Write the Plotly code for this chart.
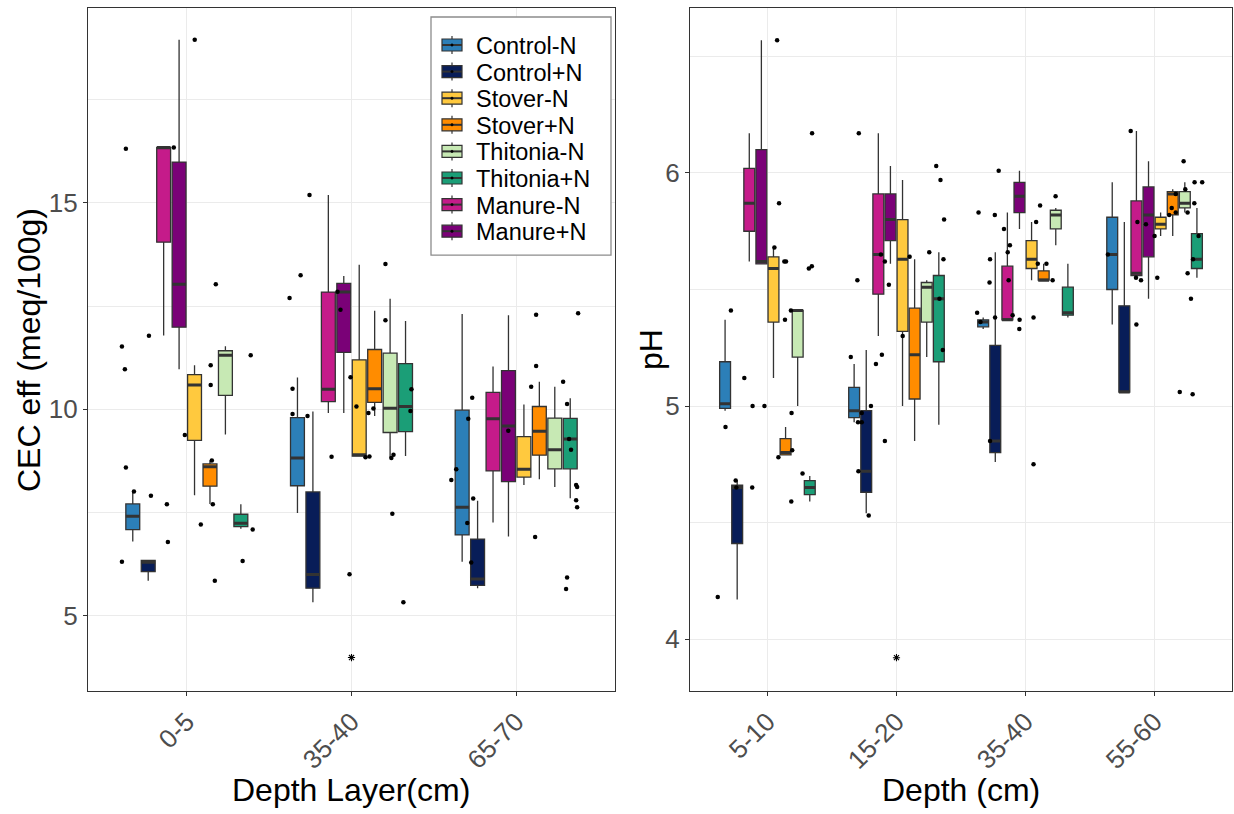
import plotly.graph_objects as go

W, H = 1234, 814

# ---------------------------------------------------------------- data
treatments = ["Control-N", "Control+N", "Manure-N", "Manure+N",
              "Stover-N", "Stover+N", "Thitonia-N", "Thitonia+N"]
legend_order = ["Control-N", "Control+N", "Stover-N", "Stover+N",
                "Thitonia-N", "Thitonia+N", "Manure-N", "Manure+N"]
colors = {
    "Control-N": "#2C7FB8", "Control+N": "#081D58",
    "Stover-N": "#FFC93E", "Stover+N": "#FF8C00",
    "Thitonia-N": "#C7E9B4", "Thitonia+N": "#1B9E77",
    "Manure-N": "#C51B8A", "Manure+N": "#7A0177",
}

# Effective CEC (meq/100g) box statistics, rows follow `treatments`,
# columns follow `cec_depths`
cec_depths = ["0-5", "35-40", "65-70"]
cec_lower = [[6.80, 7.49, 6.31], [5.85, 5.33, 5.67], [11.79, 9.91, 7.26], [10.97, 9.91, 6.92],
             [7.92, 8.87, 8.17], [7.71, 9.84, 8.31], [9.39, 8.82, 8.12], [7.11, 8.87, 7.85]]
cec_q1 = [[7.09, 8.15, 6.96], [6.07, 5.67, 5.74], [14.05, 10.19, 8.51], [11.99, 11.38, 8.25],
          [9.25, 8.87, 8.36], [8.14, 10.17, 8.89], [10.34, 9.44, 8.56], [7.16, 9.46, 8.56]]
cec_median = [[7.41, 8.82, 7.63], [6.30, 6.00, 5.89], [16.34, 10.49, 9.77], [13.03, 12.84, 9.60],
              [10.59, 8.90, 8.55], [8.61, 10.50, 9.47], [11.31, 10.03, 9.02], [7.24, 10.07, 9.28]]
cec_q3 = [[7.71, 9.80, 9.98], [6.34, 8.00, 6.86], [16.34, 12.84, 10.41], [15.99, 13.05, 10.94],
          [10.84, 11.20, 9.34], [8.68, 11.45, 10.07], [11.42, 11.36, 9.79], [7.46, 11.11, 9.78]]
cec_upper = [[8.03, 10.77, 12.31], [6.34, 9.95, 7.79], [16.34, 15.19, 11.04], [18.95, 13.23, 12.28],
             [11.07, 13.50, 10.12], [8.76, 12.39, 10.67], [11.53, 12.68, 10.55], [7.70, 12.14, 10.27]]

# individual CEC observations (jitter = horizontal spread in category units)
cec_obs_depth = ([0] * 23) + ([1] * 24) + ([2] * 23)
cec_obs_value = [
    16.31, 18.95, 16.34, 13.03, 11.52, 11.78, 10.97, 11.07, 10.59, 11.31, 9.38, 8.59,
    8.01, 7.91, 7.70, 6.79, 6.31, 7.21, 8.76, 7.70, 5.85, 6.33, 7.09,
    15.19, 13.25, 12.70, 10.50, 9.89, 9.84, 8.85, 12.85, 12.41, 10.78, 10.07, 8.84,
    8.86, 9.91, 10.02, 13.52, 12.16, 8.82, 8.90, 10.49, 9.96, 6.01, 5.33, 7.47,
    10.28, 9.77, 8.55, 8.29, 7.84, 9.48, 12.29, 11.05, 10.55, 10.67, 10.13, 9.28,
    9.02, 12.33, 8.17, 8.12, 7.80, 7.63, 7.25, 6.29, 6.91, 5.93, 5.65,
]
cec_obs_jitter = [
    -0.370, 0.048, -0.079, 0.176, -0.394, -0.230, -0.376, 0.145, 0.145, 0.388, -0.012, -0.370,
    -0.321, -0.218, -0.121, -0.115, -0.394, 0.085, 0.152, 0.158, 0.170, 0.339, 0.400,
    -0.255, -0.309, -0.376, -0.358, -0.358, -0.267, -0.121, -0.085, -0.067, -0.006, 0.030, 0.085,
    0.109, 0.103, 0.133, 0.206, 0.206, 0.242, 0.255, 0.364, 0.358, -0.012, 0.315, 0.248,
    -0.267, -0.291, -0.364, -0.394, -0.261, -0.048, 0.121, 0.121, 0.091, 0.285, 0.309, 0.321,
    0.333, 0.376, 0.364, 0.370, 0.364, 0.370, -0.297, -0.273, 0.115, 0.309, 0.303,
]
cec_flag_depth = [1]
cec_flag_value = [3.99]

# Soil pH box statistics, rows follow `treatments`, columns follow `ph_depths`
ph_depths = ["5-10", "15-20", "35-40", "55-60"]
ph_lower = [[4.98, 4.93, 5.33, 5.35], [4.17, 4.54, 4.76, 5.06], [5.62, 5.30, 5.37, 5.56],
            [5.61, 5.61, 5.76, 5.46], [5.12, 5.00, 5.54, 5.73], [4.79, 4.85, 5.54, 5.73],
            [5.00, 5.21, 5.69, 5.83], [4.59, 4.92, 5.38, 5.55]]
ph_q1 = [[4.99, 4.95, 5.34, 5.50], [4.41, 4.63, 4.80, 5.06], [5.75, 5.48, 5.37, 5.56],
         [5.61, 5.71, 5.83, 5.64], [5.36, 5.32, 5.59, 5.76], [4.79, 5.03, 5.54, 5.82],
         [5.21, 5.36, 5.76, 5.85], [4.62, 5.19, 5.39, 5.59]]
ph_median = [[5.01, 4.98, 5.36, 5.65], [4.65, 4.72, 4.85, 5.06], [5.87, 5.65, 5.37, 5.57],
             [5.62, 5.80, 5.90, 5.82], [5.59, 5.63, 5.63, 5.78], [4.80, 5.22, 5.54, 5.91],
             [5.41, 5.51, 5.82, 5.87], [4.65, 5.46, 5.40, 5.63]]
ph_q3 = [[5.19, 5.08, 5.37, 5.81], [4.66, 4.98, 5.26, 5.43], [6.02, 5.91, 5.60, 5.88],
         [6.10, 5.91, 5.96, 5.94], [5.64, 5.80, 5.71, 5.81], [4.86, 5.42, 5.58, 5.92],
         [5.41, 5.53, 5.84, 5.92], [4.68, 5.56, 5.51, 5.74]]
ph_upper = [[5.37, 5.18, 5.38, 5.96], [4.68, 5.24, 5.66, 5.79], [6.17, 6.17, 5.83, 6.18],
            [6.57, 6.03, 6.01, 6.05], [5.68, 5.97, 5.79, 5.83], [4.91, 5.63, 5.61, 5.93],
            [5.41, 5.54, 5.85, 5.96], [4.70, 5.66, 5.61, 5.85]]

ph_obs_depth = ([0] * 24) + ([1] * 24) + ([2] * 24) + ([3] * 25)
ph_obs_value = [
    6.57, 5.41, 5.68, 5.87, 5.62, 5.62, 5.37, 6.17, 5.59, 5.60, 5.41, 5.12,
    5.00, 5.00, 4.91, 4.68, 4.65, 4.65, 4.18, 4.97, 4.78, 4.81, 4.71, 4.59,
    6.17, 5.54, 5.65, 5.62, 5.52, 5.30, 5.64, 5.66, 6.03, 5.97, 5.80, 5.63,
    5.46, 5.21, 4.93, 4.93, 4.97, 4.72, 4.53, 5.00, 5.18, 5.22, 4.85, 5.24,
    6.01, 5.83, 5.82, 5.76, 5.69, 5.66, 5.63, 5.54, 5.53, 5.40, 5.36, 5.38,
    5.39, 5.37, 5.33, 5.38, 5.79, 5.86, 5.61, 5.61, 5.54, 5.90, 4.85, 4.75,
    6.18, 5.65, 5.35, 5.79, 5.55, 5.54, 5.78, 5.73, 5.55, 5.82, 5.85, 5.83,
    5.91, 6.05, 5.93, 5.83, 5.57, 5.96, 5.96, 5.87, 5.73, 5.63, 5.46, 5.06, 5.05,
]
ph_obs_jitter = [
    0.075, -0.283, 0.054, 0.090, 0.131, 0.144, 0.136, 0.346, 0.321, 0.344, 0.182, -0.179,
    -0.115, -0.023, -0.325, -0.246, -0.241, -0.118, -0.385, 0.187, 0.085, 0.192, 0.272, 0.185,
    -0.292, -0.303, -0.121, -0.090, -0.059, 0.048, 0.102, 0.254, 0.308, 0.341, 0.369, 0.364,
    0.333, -0.354, -0.298, -0.269, -0.269, -0.295, -0.215, -0.198, -0.159, -0.113, -0.090, 0.359,
    -0.208, -0.364, -0.238, -0.167, -0.121, -0.138, -0.275, -0.131, -0.279, -0.375, -0.349, -0.236,
    -0.100, -0.046, -0.048, 0.062, 0.082, 0.113, 0.095, 0.162, 0.210, 0.233, -0.275, 0.062,
    -0.185, -0.362, -0.141, -0.133, -0.144, -0.105, -0.067, 0.000, 0.021, 0.113, 0.133, 0.164,
    0.164, 0.225, 0.238, 0.256, 0.256, 0.310, 0.369, 0.308, 0.341, 0.298, 0.282, 0.195, 0.295,
]
ph_flag_depth = [1]
ph_flag_value = [3.92]

# ---------------------------------------------------------------- style
FONT = "Liberation Sans, Arial, Helvetica, sans-serif"
EDGE = "#333333"
GRID = "#EBEBEB"
TICK_GREY = "#4D4D4D"


def px_x(p):
    return p / W


def px_y(p):
    return 1 - p / H


fig = go.Figure()


def add_panel(depths, lo, q1, md, q3, hi, obs_d, obs_v, obs_j, fl_d, fl_v, xa, ya, group):
    pos = list(range(len(depths)))
    for i, name in enumerate(treatments):
        fig.add_trace(go.Box(
            x=pos, lowerfence=lo[i], q1=q1[i], median=md[i], q3=q3[i], upperfence=hi[i],
            name=name, fillcolor=colors[name], line=dict(color=EDGE, width=1.3),
            whiskerwidth=0, boxpoints=False, offsetgroup=name, alignmentgroup=group,
            xaxis=xa, yaxis=ya, showlegend=False, hoverinfo="skip"))
        # heavier median bar drawn over the box
        fig.add_trace(go.Box(
            x=pos, lowerfence=md[i], q1=md[i], median=md[i], q3=md[i], upperfence=md[i],
            name=name, fillcolor="rgba(0,0,0,0)", line=dict(color=EDGE, width=3),
            whiskerwidth=0, boxpoints=False, offsetgroup=name, alignmentgroup=group,
            xaxis=xa, yaxis=ya, showlegend=False, hoverinfo="skip"))
    fig.add_trace(go.Scatter(
        x=[d + j for d, j in zip(obs_d, obs_j)], y=obs_v, mode="markers",
        marker=dict(color="black", size=4.5), xaxis=xa, yaxis=ya,
        showlegend=False, hoverinfo="skip"))
    fig.add_trace(go.Scatter(
        x=fl_d, y=fl_v, mode="markers",
        marker=dict(symbol="asterisk-open", color="black", size=6,
                    line=dict(color="black", width=1.1)),
        xaxis=xa, yaxis=ya, showlegend=False, hoverinfo="skip"))


add_panel(cec_depths, cec_lower, cec_q1, cec_median, cec_q3, cec_upper,
          cec_obs_depth, cec_obs_value, cec_obs_jitter, cec_flag_depth, cec_flag_value,
          "x", "y", "cec")
add_panel(ph_depths, ph_lower, ph_q1, ph_median, ph_q3, ph_upper,
          ph_obs_depth, ph_obs_value, ph_obs_jitter, ph_flag_depth, ph_flag_value,
          "x2", "y2", "ph")

y_dom = [px_y(691), px_y(8)]
axis_common = dict(
    showline=True, mirror=True, linecolor=EDGE, linewidth=1.2,
    ticks="outside", ticklen=4, tickwidth=1, tickcolor=EDGE,
    tickfont=dict(family=FONT, size=26, color=TICK_GREY),
    showgrid=True, gridcolor=GRID, gridwidth=1.1, zeroline=False,
    automargin=False,
)

fig.update_layout(
    width=W, height=H,
    margin=dict(l=0, r=0, t=0, b=0),
    paper_bgcolor="white", plot_bgcolor="white",
    boxmode="group", boxgap=0.25, boxgroupgap=0.1,
    showlegend=False,
    font=dict(family=FONT),
    xaxis=dict(axis_common, domain=[px_x(88), px_x(615)], range=[-0.6, 2.6],
               tickvals=list(range(len(cec_depths))), ticktext=cec_depths,
               tickangle=-45, anchor="y"),
    yaxis=dict(axis_common, domain=y_dom, range=[3.18, 19.72],
               tickvals=[5, 10, 15], anchor="x",
               minor=dict(tickvals=[7.5, 12.5, 17.5], showgrid=True,
                          gridcolor=GRID, gridwidth=0.6, ticks="")),
    xaxis2=dict(axis_common, domain=[px_x(690), px_x(1232)], range=[-0.6, 3.6],
                tickvals=list(range(len(ph_depths))), ticktext=ph_depths,
                tickangle=-45, anchor="y2"),
    yaxis2=dict(axis_common, domain=y_dom, range=[3.777, 6.708],
                tickvals=[4, 5, 6], anchor="x2",
                minor=dict(tickvals=[4.5, 5.5, 6.5], showgrid=True,
                           gridcolor=GRID, gridwidth=0.6, ticks="")),
)

# axis titles
title_font = dict(family=FONT, size=32, color="black")
for txt, cx, cy, ang in [("CEC eff (meq/100g)", 29, 350, -90), ("pH", 651, 350, -90),
                         ("Depth Layer(cm)", 351, 790, 0), ("Depth (cm)", 961, 790, 0)]:
    fig.add_annotation(text=txt, x=px_x(cx), y=px_y(cy), xref="paper", yref="paper",
                       xanchor="center", yanchor="middle", textangle=ang,
                       showarrow=False, font=title_font)

# legend panel, drawn inside the CEC panel
row0, row_step = 45, 26.6
last = row0 + row_step * (len(legend_order) - 1)
fig.add_shape(type="rect", xref="paper", yref="paper",
              x0=px_x(431), x1=px_x(611), y0=px_y(last + 24), y1=px_y(17),
              line=dict(color="#8C8C8C", width=1.3), fillcolor="white", layer="above")
for k, name in enumerate(legend_order):
    cy = row0 + k * row_step
    fig.add_shape(type="line", xref="paper", yref="paper",
                  x0=px_x(452), x1=px_x(452), y0=px_y(cy + 9), y1=px_y(cy - 9),
                  line=dict(color=EDGE, width=1.2), layer="above")
    fig.add_shape(type="rect", xref="paper", yref="paper",
                  x0=px_x(442), x1=px_x(462), y0=px_y(cy + 6), y1=px_y(cy - 6),
                  line=dict(color=EDGE, width=1.2), fillcolor=colors[name], layer="above")
    fig.add_shape(type="line", xref="paper", yref="paper",
                  x0=px_x(442), x1=px_x(462), y0=px_y(cy), y1=px_y(cy),
                  line=dict(color=EDGE, width=2), layer="above")
    fig.add_shape(type="circle", xref="paper", yref="paper",
                  x0=px_x(450.8), x1=px_x(453.2), y0=px_y(cy + 1.2), y1=px_y(cy - 1.2),
                  line=dict(color="black", width=0.5), fillcolor="black", layer="above")
    fig.add_annotation(text=name, x=px_x(474), y=px_y(cy + 1), xref="paper", yref="paper",
                       xanchor="left", yanchor="middle", showarrow=False,
                       font=dict(family=FONT, size=23.5, color="black"))

fig.write_html("out.html")
